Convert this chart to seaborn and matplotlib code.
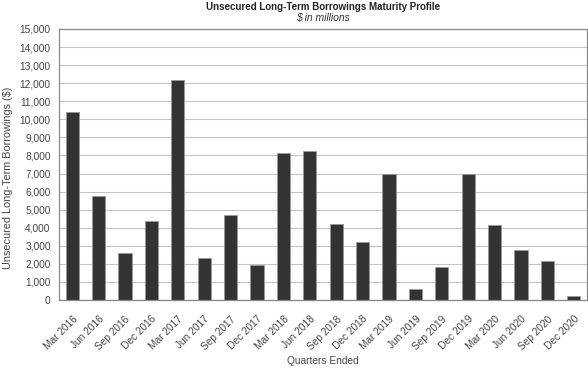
import numpy as np
import pandas as pd
import matplotlib.pyplot as plt
import seaborn as sns

quarters = ['Mar 2016', 'Jun 2016', 'Sep 2016', 'Dec 2016',
            'Mar 2017', 'Jun 2017', 'Sep 2017', 'Dec 2017',
            'Mar 2018', 'Jun 2018', 'Sep 2018', 'Dec 2018',
            'Mar 2019', 'Jun 2019', 'Sep 2019', 'Dec 2019',
            'Mar 2020', 'Jun 2020', 'Sep 2020', 'Dec 2020']
borrowings = [10400, 5750, 2600, 4400,
              12200, 2350, 4700, 1950,
              8150, 8250, 4200, 3200,
              7000, 620, 1850, 7000,
              4150, 2750, 2150, 200]
y_ticks = list(range(0, 15001, 1000))

df = pd.DataFrame({'Quarter': quarters, 'Amount': borrowings})

sns.set_style('white')
plt.rcParams['font.family'] = ['Liberation Sans', 'DejaVu Sans']

fig = plt.figure(figsize=(5.88, 3.68), dpi=100)
ax = fig.add_axes([59 / 588, 68 / 368, 528 / 588, 271 / 368])

sns.barplot(data=df, x='Quarter', y='Amount', color='#333333', width=0.5,
            edgecolor='#9a9a9a', linewidth=0.6, saturation=1, ax=ax)

ax.set_ylim(0, 15000)
ax.set_xlim(-0.5, len(quarters) - 0.5)
ax.set_yticks(y_ticks)
ax.set_yticklabels([f'{v:,}' for v in y_ticks], fontsize=7.3, color='#444444')
ax.yaxis.grid(True, color='#c4c4c4', linewidth=0.8)
ax.set_axisbelow(True)

# x ticks sit between the categories
ax.set_xticks(np.arange(len(quarters)))
ax.set_xticklabels(quarters, rotation=45, ha='right', rotation_mode='anchor',
                   fontsize=7.3, color='#444444')
ax.tick_params(axis='x', length=0, pad=10)
ax.set_xticks(np.arange(len(quarters) + 1) - 0.5, minor=True)
ax.tick_params(axis='x', which='minor', length=4, color='#888888', width=0.8)
ax.tick_params(axis='y', length=3, color='#888888', width=0.8, pad=3)

for side in ['left', 'right', 'top', 'bottom']:
    ax.spines[side].set_visible(True)
    ax.spines[side].set_color('#888888')
    ax.spines[side].set_linewidth(0.9)

ax.set_xlabel('Quarters Ended', fontsize=7.3, color='#444444', labelpad=3)
ax.set_ylabel('Unsecured Long-Term Borrowings ($)', fontsize=7.8, color='#444444')
ax.yaxis.set_label_coords(-46 / 528, (300 - 178) / 271)

fig.text(323 / 588, 1 - 7 / 368, 'Unsecured Long-Term Borrowings Maturity Profile',
         ha='center', va='center', fontsize=7, fontweight='bold', color='#222222')
fig.text(323 / 588, 1 - 18 / 368, '$ in millions', ha='center', va='center',
         fontsize=7.5, style='italic', color='#333333')

fig.savefig('out.png', dpi=100)
